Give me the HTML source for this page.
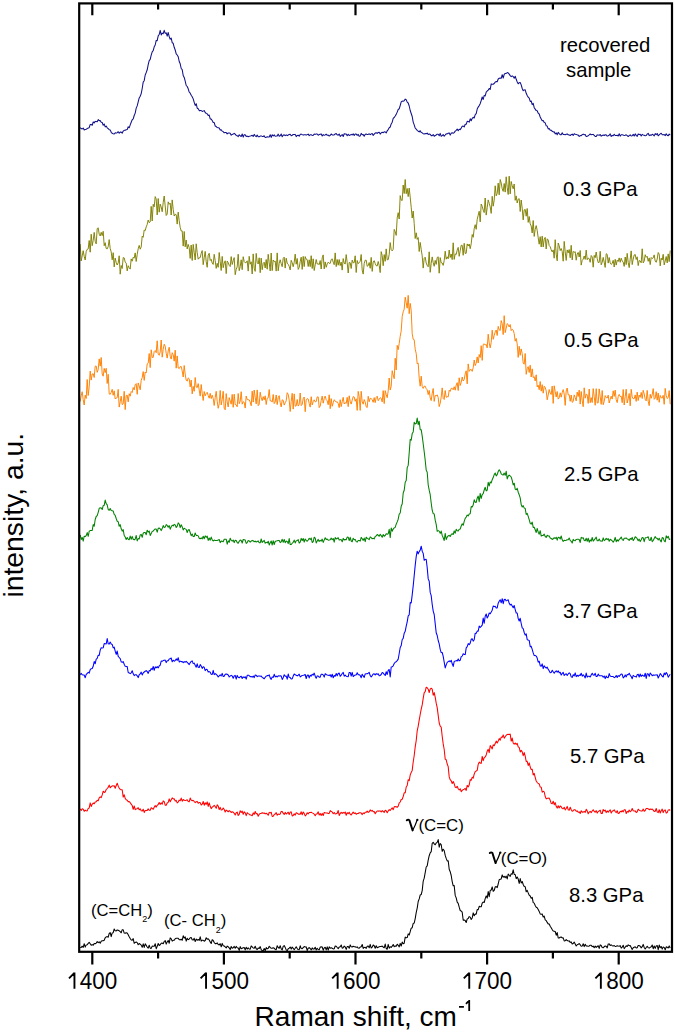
<!DOCTYPE html>
<html><head><meta charset="utf-8">
<style>
html,body{margin:0;padding:0;background:#fff;}
body{width:675px;height:1033px;overflow:hidden;}
svg{display:block;}
text{font-family:"Liberation Sans",sans-serif;fill:#000;}
.sp path{fill:none;stroke-width:1.05;stroke-linejoin:round;}
.lab{font-size:20.3px;}
.tk{font-size:24.6px;text-anchor:middle;}
.an{font-size:16.6px;}
.nu{font-family:"Liberation Serif",serif;font-size:25px;}
</style></head>
<body>
<svg width="675" height="1033" viewBox="0 0 675 1033">
<defs><g id="nu" fill="none" stroke="#000" stroke-linecap="round">
<path d="M0.3 1.5 Q1.7 0.2 2.9 1.5 L6.1 11.6" stroke-width="1.95"/>
<path d="M6.1 11.7 C7.8 8.4 9.6 4.6 10.6 1.3" stroke-width="1.25"/>
<circle cx="10.85" cy="1.15" r="1.15" fill="#000" stroke="none"/>
</g></defs>
<rect x="0" y="0" width="675" height="1033" fill="#fff"/>
<g class="sp">
<path d="M80.2 127.6L81.2 128.6L82.2 129.0L83.2 128.0L84.2 129.9L85.2 129.6L86.2 129.3L87.2 128.6L88.2 128.0L89.2 127.7L90.2 124.5L91.2 124.4L92.2 125.3L93.2 122.0L94.2 122.9L95.2 121.4L96.2 121.6L97.2 121.8L98.2 119.6L99.2 120.6L100.2 120.6L101.2 122.2L102.2 122.5L103.2 125.2L104.2 124.0L105.2 126.9L106.2 126.1L107.2 127.8L108.2 128.7L109.2 129.7L110.2 129.9L111.2 132.3L112.2 133.3L113.2 133.7L114.2 134.0L115.2 132.8L116.2 133.1L117.2 132.7L118.2 131.7L119.2 133.2L120.2 132.1L121.2 132.1L122.2 133.2L123.2 131.1L124.2 130.3L125.2 130.3L126.2 129.8L127.2 129.6L128.2 126.8L129.2 127.8L130.2 124.9L131.2 122.2L132.2 119.8L133.2 118.8L134.2 115.5L135.2 113.1L136.2 108.1L137.2 105.9L138.2 101.9L139.2 97.9L140.2 96.2L141.2 93.6L142.2 88.5L143.2 82.1L144.2 80.7L145.2 75.0L146.2 72.6L147.2 69.8L148.2 64.7L149.2 60.6L150.2 59.4L151.2 55.2L152.2 51.8L153.2 50.7L154.2 46.8L155.2 45.0L156.2 40.4L157.2 40.7L158.2 35.9L159.2 34.5L160.2 30.4L161.2 34.9L162.2 33.1L163.2 33.7L164.2 30.3L165.2 33.3L166.2 32.9L167.2 36.1L168.2 32.5L169.2 36.6L170.2 39.2L171.2 38.1L172.2 42.7L173.2 43.3L174.2 47.3L175.2 50.0L176.2 53.9L177.2 55.0L178.2 56.7L179.2 61.5L180.2 63.8L181.2 68.5L182.2 69.6L183.2 75.5L184.2 77.4L185.2 81.2L186.2 85.5L187.2 86.5L188.2 88.8L189.2 92.0L190.2 93.2L191.2 95.2L192.2 96.7L193.2 98.9L194.2 102.3L195.2 105.4L196.2 103.7L197.2 108.2L198.2 108.8L199.2 110.6L200.2 110.6L201.2 110.5L202.2 111.5L203.2 111.1L204.2 110.6L205.2 112.5L206.2 113.4L207.2 113.7L208.2 115.4L209.2 115.1L210.2 118.9L211.2 119.1L212.2 120.5L213.2 122.5L214.2 122.6L215.2 126.0L216.2 126.5L217.2 127.6L218.2 127.8L219.2 128.1L220.2 130.1L221.2 129.8L222.2 131.1L223.2 131.6L224.2 132.8L225.2 132.5L226.2 132.6L227.2 133.9L228.2 133.0L229.2 133.0L230.2 133.3L231.2 135.2L232.2 134.4L233.2 134.1L234.2 133.3L235.2 134.2L236.2 135.4L237.2 135.7L238.2 136.6L239.2 134.8L240.2 135.8L241.2 136.5L242.2 134.0L243.2 137.1L244.2 134.7L245.2 134.7L246.2 136.4L247.2 136.1L248.2 136.7L249.2 136.3L250.2 136.1L251.2 135.8L252.2 135.3L253.2 136.4L254.2 134.4L255.2 135.8L256.2 136.6L257.2 135.1L258.2 136.7L259.2 136.8L260.2 136.1L261.2 135.9L262.2 136.4L263.2 136.5L264.2 135.8L265.2 137.5L266.2 137.2L267.2 136.8L268.2 137.0L269.2 137.0L270.2 134.8L271.2 137.4L272.2 134.7L273.2 136.0L274.2 134.9L275.2 136.2L276.2 136.1L277.2 135.9L278.2 134.1L279.2 136.3L280.2 135.8L281.2 134.0L282.2 136.7L283.2 135.3L284.2 134.8L285.2 135.7L286.2 134.9L287.2 135.6L288.2 135.0L289.2 134.5L290.2 134.3L291.2 135.8L292.2 135.2L293.2 134.5L294.2 134.6L295.2 134.4L296.2 136.6L297.2 135.4L298.2 135.2L299.2 136.2L300.2 134.5L301.2 134.1L302.2 134.6L303.2 135.1L304.2 134.8L305.2 134.7L306.2 135.1L307.2 134.6L308.2 134.1L309.2 135.6L310.2 134.8L311.2 134.8L312.2 135.4L313.2 135.3L314.2 134.1L315.2 134.4L316.2 133.9L317.2 134.0L318.2 135.2L319.2 134.6L320.2 134.2L321.2 133.9L322.2 136.0L323.2 134.6L324.2 135.2L325.2 134.9L326.2 134.2L327.2 135.3L328.2 135.1L329.2 136.0L330.2 135.4L331.2 134.0L332.2 134.9L333.2 134.9L334.2 134.9L335.2 134.0L336.2 133.6L337.2 134.8L338.2 135.2L339.2 134.0L340.2 136.4L341.2 135.5L342.2 134.5L343.2 136.5L344.2 133.7L345.2 134.1L346.2 134.0L347.2 135.8L348.2 134.3L349.2 135.5L350.2 135.1L351.2 134.4L352.2 135.0L353.2 133.9L354.2 135.5L355.2 134.0L356.2 134.1L357.2 135.3L358.2 134.4L359.2 136.3L360.2 135.9L361.2 133.4L362.2 134.8L363.2 134.6L364.2 136.2L365.2 134.2L366.2 134.1L367.2 134.4L368.2 134.4L369.2 133.8L370.2 134.6L371.2 133.9L372.2 133.6L373.2 135.4L374.2 134.2L375.2 133.1L376.2 132.7L377.2 133.4L378.2 132.5L379.2 132.3L380.2 134.1L381.2 132.9L382.2 132.3L383.2 132.7L384.2 131.8L385.2 131.9L386.2 132.9L387.2 130.8L388.2 129.6L389.2 127.7L390.2 127.0L391.2 123.9L392.2 122.2L393.2 118.4L394.2 117.5L395.2 116.0L396.2 114.4L397.2 112.1L398.2 109.5L399.2 108.8L400.2 105.5L401.2 101.9L402.2 101.1L403.2 101.2L404.2 100.8L405.2 99.1L406.2 99.7L407.2 102.1L408.2 103.0L409.2 106.0L410.2 110.5L411.2 113.5L412.2 116.5L413.2 122.1L414.2 124.9L415.2 128.0L416.2 129.2L417.2 130.3L418.2 131.2L419.2 131.9L420.2 130.7L421.2 132.6L422.2 132.8L423.2 133.7L424.2 133.9L425.2 133.6L426.2 133.7L427.2 133.1L428.2 134.5L429.2 134.1L430.2 134.3L431.2 135.6L432.2 135.6L433.2 134.6L434.2 136.3L435.2 135.5L436.2 135.0L437.2 134.2L438.2 134.2L439.2 135.7L440.2 133.4L441.2 136.3L442.2 135.5L443.2 134.6L444.2 136.2L445.2 135.0L446.2 133.7L447.2 133.9L448.2 133.3L449.2 132.9L450.2 135.1L451.2 133.3L452.2 132.8L453.2 133.2L454.2 132.6L455.2 131.1L456.2 130.3L457.2 129.1L458.2 130.8L459.2 129.2L460.2 129.6L461.2 128.1L462.2 126.2L463.2 126.0L464.2 127.0L465.2 124.2L466.2 124.3L467.2 121.3L468.2 121.4L469.2 122.1L470.2 118.8L471.2 120.7L472.2 118.4L473.2 117.3L474.2 118.0L475.2 114.6L476.2 113.6L477.2 109.1L478.2 107.1L479.2 105.6L480.2 103.7L481.2 100.5L482.2 97.0L483.2 99.5L484.2 95.4L485.2 95.9L486.2 92.1L487.2 91.0L488.2 90.1L489.2 88.5L490.2 89.4L491.2 83.9L492.2 84.2L493.2 84.2L494.2 83.5L495.2 82.1L496.2 81.5L497.2 81.7L498.2 79.0L499.2 78.3L500.2 78.1L501.2 78.3L502.2 74.7L503.2 78.0L504.2 74.4L505.2 73.4L506.2 73.5L507.2 72.5L508.2 72.9L509.2 74.1L510.2 75.6L511.2 76.6L512.2 75.8L513.2 76.6L514.2 78.3L515.2 76.2L516.2 79.3L517.2 81.9L518.2 83.8L519.2 82.7L520.2 82.5L521.2 84.9L522.2 88.5L523.2 90.7L524.2 89.9L525.2 89.8L526.2 93.3L527.2 95.5L528.2 97.2L529.2 98.2L530.2 101.4L531.2 101.0L532.2 104.6L533.2 103.3L534.2 107.7L535.2 109.1L536.2 110.6L537.2 110.8L538.2 113.2L539.2 114.0L540.2 117.0L541.2 118.9L542.2 120.8L543.2 120.6L544.2 122.5L545.2 122.8L546.2 125.8L547.2 126.1L548.2 128.9L549.2 128.5L550.2 130.2L551.2 130.2L552.2 131.3L553.2 131.9L554.2 131.7L555.2 133.9L556.2 132.9L557.2 134.8L558.2 132.4L559.2 133.6L560.2 134.7L561.2 134.8L562.2 132.7L563.2 134.5L564.2 134.5L565.2 134.7L566.2 134.2L567.2 133.9L568.2 134.8L569.2 135.1L570.2 135.5L571.2 134.7L572.2 134.1L573.2 135.4L574.2 133.7L575.2 134.3L576.2 134.4L577.2 134.9L578.2 135.1L579.2 136.5L580.2 135.5L581.2 135.7L582.2 134.7L583.2 134.1L584.2 134.7L585.2 134.6L586.2 136.5L587.2 136.2L588.2 135.7L589.2 134.9L590.2 134.0L591.2 134.7L592.2 134.5L593.2 134.4L594.2 135.4L595.2 136.4L596.2 136.5L597.2 134.9L598.2 135.1L599.2 135.3L600.2 134.5L601.2 136.1L602.2 135.5L603.2 135.1L604.2 135.5L605.2 134.7L606.2 134.9L607.2 136.1L608.2 135.8L609.2 135.2L610.2 133.9L611.2 136.5L612.2 135.4L613.2 135.8L614.2 134.3L615.2 135.5L616.2 135.6L617.2 135.3L618.2 136.0L619.2 133.7L620.2 136.1L621.2 134.8L622.2 134.7L623.2 135.1L624.2 135.4L625.2 135.3L626.2 134.8L627.2 135.6L628.2 136.5L629.2 135.6L630.2 134.8L631.2 136.0L632.2 135.8L633.2 134.4L634.2 136.0L635.2 133.9L636.2 135.4L637.2 136.4L638.2 134.0L639.2 134.6L640.2 134.3L641.2 136.0L642.2 134.4L643.2 134.9L644.2 135.2L645.2 135.7L646.2 135.5L647.2 134.1L648.2 133.3L649.2 135.6L650.2 134.9L651.2 135.3L652.2 134.3L653.2 134.8L654.2 135.9L655.2 133.6L656.2 134.6L657.2 133.5L658.2 135.8L659.2 134.8L660.2 133.9L661.2 133.3L662.2 134.7L663.2 134.7L664.2 134.5L665.2 135.7L666.2 133.8L667.2 135.2L668.2 135.8L669.2 134.1L670.2 135.2" stroke="#10108a"/>
<path d="M80.2 244.1L81.2 260.9L82.2 255.9L83.2 250.7L84.2 256.4L85.2 260.0L86.2 251.5L87.2 249.4L88.2 248.9L89.2 240.5L90.2 252.2L91.2 234.2L92.2 245.7L93.2 240.4L94.2 232.4L95.2 241.3L96.2 243.9L97.2 228.6L98.2 227.8L99.2 234.2L100.2 236.0L101.2 232.3L102.2 235.6L103.2 231.3L104.2 245.7L105.2 242.7L106.2 248.5L107.2 248.9L108.2 246.6L109.2 239.6L110.2 248.6L111.2 251.9L112.2 259.8L113.2 252.7L114.2 266.9L115.2 258.1L116.2 262.4L117.2 265.0L118.2 262.8L119.2 255.8L120.2 274.2L121.2 265.5L122.2 268.5L123.2 257.6L124.2 257.9L125.2 262.1L126.2 263.1L127.2 270.9L128.2 265.7L129.2 267.7L130.2 269.1L131.2 258.9L132.2 261.2L133.2 257.3L134.2 258.1L135.2 252.9L136.2 261.5L137.2 254.5L138.2 248.8L139.2 245.4L140.2 249.2L141.2 247.0L142.2 236.1L143.2 237.3L144.2 230.0L145.2 230.7L146.2 226.9L147.2 224.5L148.2 220.0L149.2 222.7L150.2 221.9L151.2 206.4L152.2 221.0L153.2 204.3L154.2 206.8L155.2 196.6L156.2 199.0L157.2 214.9L158.2 198.5L159.2 212.2L160.2 204.1L161.2 207.0L162.2 211.8L163.2 202.6L164.2 196.0L165.2 205.9L166.2 215.5L167.2 214.1L168.2 201.8L169.2 204.3L170.2 203.1L171.2 215.0L172.2 199.9L173.2 209.3L174.2 216.0L175.2 214.3L176.2 214.7L177.2 224.1L178.2 212.1L179.2 220.7L180.2 227.4L181.2 231.0L182.2 230.9L183.2 246.1L184.2 231.5L185.2 246.8L186.2 240.0L187.2 248.9L188.2 244.4L189.2 247.7L190.2 258.4L191.2 245.0L192.2 260.5L193.2 244.4L194.2 252.4L195.2 260.0L196.2 243.8L197.2 252.5L198.2 259.2L199.2 257.8L200.2 257.6L201.2 253.4L202.2 250.6L203.2 264.7L204.2 257.7L205.2 251.4L206.2 261.5L207.2 267.3L208.2 255.2L209.2 253.3L210.2 260.5L211.2 259.3L212.2 263.0L213.2 264.4L214.2 254.3L215.2 260.6L216.2 268.4L217.2 263.3L218.2 267.3L219.2 252.5L220.2 261.9L221.2 270.5L222.2 256.4L223.2 267.7L224.2 263.0L225.2 260.8L226.2 273.6L227.2 261.1L228.2 262.5L229.2 265.4L230.2 266.6L231.2 256.6L232.2 264.5L233.2 260.7L234.2 257.6L235.2 274.7L236.2 269.3L237.2 266.9L238.2 254.2L239.2 270.7L240.2 266.7L241.2 259.8L242.2 269.7L243.2 256.7L244.2 261.6L245.2 262.7L246.2 262.6L247.2 260.8L248.2 271.1L249.2 256.3L250.2 264.2L251.2 261.8L252.2 274.0L253.2 253.9L254.2 268.2L255.2 271.4L256.2 253.4L257.2 262.4L258.2 264.0L259.2 257.8L260.2 272.7L261.2 258.1L262.2 269.7L263.2 263.4L264.2 262.2L265.2 268.0L266.2 259.5L267.2 269.2L268.2 254.3L269.2 262.8L270.2 270.9L271.2 253.0L272.2 270.6L273.2 260.0L274.2 261.5L275.2 261.1L276.2 271.1L277.2 252.9L278.2 270.8L279.2 263.4L280.2 259.8L281.2 263.7L282.2 266.7L283.2 258.4L284.2 257.1L285.2 268.1L286.2 258.2L287.2 263.1L288.2 264.3L289.2 266.4L290.2 270.0L291.2 260.3L292.2 262.7L293.2 266.7L294.2 262.4L295.2 254.1L296.2 264.2L297.2 258.5L298.2 269.4L299.2 267.5L300.2 261.6L301.2 257.2L302.2 269.4L303.2 256.4L304.2 266.6L305.2 256.6L306.2 259.2L307.2 259.6L308.2 266.5L309.2 259.8L310.2 266.7L311.2 255.7L312.2 268.5L313.2 258.8L314.2 270.5L315.2 264.9L316.2 259.5L317.2 264.0L318.2 263.9L319.2 264.7L320.2 260.6L321.2 269.0L322.2 257.9L323.2 254.9L324.2 268.9L325.2 261.9L326.2 267.3L327.2 263.9L328.2 262.2L329.2 263.3L330.2 263.4L331.2 259.6L332.2 258.8L333.2 262.1L334.2 264.7L335.2 252.9L336.2 266.6L337.2 259.5L338.2 265.2L339.2 259.5L340.2 265.6L341.2 262.1L342.2 270.1L343.2 258.6L344.2 263.0L345.2 264.1L346.2 254.6L347.2 262.7L348.2 273.0L349.2 262.5L350.2 262.7L351.2 268.5L352.2 260.1L353.2 262.8L354.2 262.7L355.2 255.8L356.2 272.5L357.2 260.5L358.2 263.7L359.2 262.4L360.2 261.5L361.2 254.5L362.2 270.1L363.2 274.1L364.2 263.4L365.2 260.2L366.2 260.2L367.2 266.3L368.2 265.7L369.2 262.5L370.2 268.3L371.2 257.4L372.2 271.4L373.2 262.0L374.2 260.7L375.2 263.5L376.2 265.7L377.2 266.0L378.2 261.5L379.2 265.3L380.2 272.6L381.2 251.7L382.2 255.6L383.2 265.7L384.2 254.6L385.2 261.3L386.2 248.9L387.2 259.8L388.2 259.7L389.2 254.4L390.2 242.6L391.2 249.7L392.2 250.9L393.2 249.2L394.2 229.4L395.2 231.5L396.2 235.4L397.2 217.9L398.2 212.7L399.2 219.0L400.2 195.6L401.2 200.1L402.2 200.5L403.2 185.0L404.2 193.5L405.2 179.5L406.2 193.7L407.2 188.5L408.2 196.6L409.2 188.1L410.2 197.1L411.2 207.2L412.2 218.0L413.2 211.0L414.2 223.5L415.2 238.5L416.2 232.8L417.2 239.4L418.2 237.6L419.2 251.5L420.2 242.4L421.2 249.3L422.2 255.9L423.2 268.1L424.2 258.2L425.2 257.2L426.2 263.0L427.2 265.4L428.2 266.8L429.2 251.8L430.2 272.3L431.2 263.4L432.2 256.9L433.2 262.6L434.2 266.3L435.2 260.4L436.2 264.4L437.2 257.5L438.2 256.8L439.2 273.2L440.2 257.6L441.2 262.7L442.2 263.0L443.2 265.4L444.2 260.6L445.2 251.2L446.2 259.2L447.2 256.8L448.2 258.8L449.2 250.0L450.2 257.5L451.2 254.0L452.2 259.6L453.2 242.8L454.2 259.4L455.2 253.9L456.2 254.5L457.2 250.1L458.2 247.4L459.2 256.3L460.2 250.8L461.2 245.3L462.2 245.3L463.2 255.3L464.2 243.3L465.2 253.5L466.2 253.3L467.2 243.9L468.2 246.0L469.2 244.0L470.2 248.7L471.2 243.8L472.2 234.5L473.2 237.3L474.2 228.7L475.2 224.7L476.2 229.3L477.2 219.4L478.2 215.3L479.2 211.2L480.2 221.9L481.2 204.0L482.2 206.3L483.2 210.1L484.2 212.6L485.2 198.0L486.2 215.1L487.2 207.7L488.2 199.9L489.2 203.3L490.2 206.8L491.2 213.4L492.2 196.3L493.2 206.2L494.2 200.1L495.2 185.8L496.2 195.8L497.2 193.4L498.2 183.1L499.2 194.8L500.2 179.5L501.2 183.0L502.2 188.8L503.2 191.4L504.2 183.5L505.2 192.1L506.2 176.8L507.2 187.4L508.2 194.5L509.2 176.2L510.2 193.9L511.2 181.5L512.2 185.8L513.2 188.8L514.2 184.0L515.2 200.3L516.2 195.9L517.2 203.0L518.2 199.1L519.2 198.7L520.2 211.5L521.2 200.0L522.2 208.1L523.2 219.9L524.2 209.9L525.2 209.4L526.2 216.2L527.2 208.5L528.2 222.4L529.2 216.5L530.2 223.9L531.2 226.0L532.2 233.0L533.2 220.5L534.2 236.4L535.2 229.4L536.2 225.6L537.2 230.4L538.2 237.8L539.2 244.2L540.2 236.7L541.2 247.0L542.2 236.1L543.2 246.9L544.2 239.2L545.2 237.4L546.2 249.0L547.2 238.8L548.2 240.0L549.2 245.7L550.2 246.7L551.2 249.8L552.2 251.9L553.2 249.9L554.2 258.2L555.2 239.7L556.2 254.1L557.2 260.8L558.2 243.0L559.2 245.7L560.2 250.6L561.2 248.5L562.2 251.5L563.2 261.2L564.2 241.4L565.2 251.8L566.2 260.4L567.2 249.9L568.2 252.9L569.2 249.5L570.2 257.8L571.2 245.3L572.2 259.9L573.2 251.4L574.2 252.3L575.2 251.7L576.2 260.2L577.2 254.0L578.2 252.4L579.2 257.0L580.2 250.5L581.2 265.1L582.2 260.3L583.2 259.2L584.2 256.0L585.2 259.4L586.2 250.1L587.2 259.7L588.2 258.1L589.2 258.6L590.2 262.3L591.2 255.5L592.2 256.9L593.2 267.2L594.2 255.4L595.2 257.7L596.2 252.0L597.2 258.6L598.2 262.6L599.2 262.4L600.2 251.3L601.2 264.8L602.2 262.3L603.2 257.4L604.2 262.2L605.2 267.4L606.2 253.7L607.2 254.4L608.2 263.1L609.2 257.5L610.2 262.8L611.2 264.4L612.2 263.5L613.2 260.3L614.2 267.0L615.2 259.3L616.2 265.1L617.2 260.2L618.2 261.5L619.2 257.9L620.2 262.3L621.2 258.2L622.2 261.0L623.2 262.1L624.2 266.4L625.2 257.0L626.2 264.6L627.2 253.4L628.2 262.4L629.2 267.6L630.2 259.2L631.2 250.9L632.2 264.6L633.2 259.1L634.2 255.0L635.2 254.4L636.2 259.5L637.2 256.8L638.2 265.6L639.2 260.5L640.2 261.0L641.2 262.8L642.2 248.8L643.2 262.9L644.2 261.1L645.2 254.7L646.2 257.3L647.2 256.3L648.2 261.3L649.2 257.9L650.2 264.6L651.2 257.5L652.2 258.6L653.2 257.9L654.2 254.9L655.2 261.1L656.2 262.3L657.2 259.0L658.2 252.5L659.2 254.1L660.2 265.9L661.2 258.2L662.2 260.0L663.2 254.3L664.2 264.9L665.2 261.0L666.2 256.5L667.2 262.9L668.2 253.9L669.2 261.6L670.2 250.5" stroke="#808000" style="stroke-width:0.95"/>
<path d="M80.2 401.6L81.2 395.8L82.2 391.7L83.2 399.6L84.2 405.0L85.2 395.2L86.2 398.5L87.2 379.5L88.2 395.5L89.2 386.9L90.2 371.1L91.2 380.1L92.2 374.0L93.2 373.7L94.2 377.5L95.2 366.2L96.2 366.0L97.2 372.3L98.2 369.6L99.2 358.9L100.2 366.1L101.2 357.5L102.2 374.0L103.2 376.2L104.2 368.4L105.2 372.6L106.2 368.3L107.2 383.5L108.2 374.3L109.2 393.9L110.2 394.4L111.2 392.3L112.2 389.3L113.2 395.3L114.2 390.8L115.2 399.0L116.2 398.0L117.2 397.7L118.2 389.4L119.2 407.1L120.2 401.8L121.2 396.2L122.2 404.7L123.2 403.8L124.2 391.3L125.2 409.6L126.2 395.5L127.2 395.1L128.2 401.9L129.2 393.7L130.2 396.2L131.2 391.5L132.2 392.5L133.2 387.5L134.2 389.9L135.2 384.8L136.2 383.6L137.2 394.3L138.2 382.9L139.2 386.0L140.2 389.8L141.2 380.3L142.2 377.7L143.2 371.6L144.2 380.4L145.2 372.0L146.2 373.0L147.2 363.9L148.2 363.1L149.2 353.5L150.2 367.6L151.2 349.8L152.2 357.4L153.2 357.5L154.2 351.5L155.2 350.5L156.2 352.7L157.2 340.8L158.2 354.2L159.2 355.3L160.2 351.9L161.2 340.0L162.2 357.2L163.2 349.3L164.2 344.2L165.2 346.2L166.2 353.3L167.2 358.1L168.2 351.0L169.2 347.2L170.2 356.2L171.2 359.1L172.2 352.7L173.2 354.7L174.2 361.1L175.2 350.1L176.2 368.2L177.2 355.9L178.2 367.9L179.2 368.6L180.2 366.7L181.2 366.5L182.2 370.9L183.2 377.0L184.2 365.5L185.2 374.1L186.2 380.2L187.2 381.2L188.2 377.9L189.2 378.8L190.2 386.9L191.2 380.0L192.2 393.9L193.2 386.4L194.2 391.3L195.2 377.5L196.2 387.0L197.2 387.7L198.2 383.6L199.2 390.0L200.2 396.1L201.2 384.5L202.2 393.2L203.2 400.5L204.2 391.5L205.2 395.8L206.2 393.6L207.2 392.3L208.2 395.5L209.2 398.2L210.2 393.3L211.2 398.6L212.2 395.2L213.2 398.4L214.2 405.5L215.2 397.7L216.2 391.3L217.2 401.2L218.2 408.3L219.2 403.8L220.2 390.5L221.2 404.9L222.2 399.5L223.2 391.3L224.2 408.2L225.2 409.8L226.2 393.6L227.2 402.0L228.2 407.0L229.2 397.6L230.2 400.9L231.2 404.2L232.2 394.4L233.2 407.3L234.2 394.2L235.2 404.6L236.2 404.8L237.2 406.8L238.2 393.5L239.2 403.7L240.2 401.3L241.2 391.7L242.2 404.2L243.2 401.7L244.2 402.3L245.2 408.1L246.2 396.0L247.2 399.5L248.2 399.7L249.2 399.9L250.2 402.0L251.2 405.8L252.2 391.1L253.2 402.1L254.2 390.0L255.2 397.2L256.2 403.9L257.2 389.9L258.2 405.7L259.2 404.4L260.2 392.2L261.2 397.8L262.2 400.7L263.2 396.6L264.2 399.9L265.2 395.8L266.2 404.5L267.2 398.3L268.2 397.9L269.2 389.5L270.2 400.8L271.2 400.7L272.2 402.1L273.2 394.5L274.2 403.6L275.2 402.0L276.2 395.0L277.2 404.6L278.2 397.6L279.2 395.7L280.2 402.9L281.2 406.9L282.2 399.8L283.2 400.3L284.2 405.1L285.2 402.8L286.2 400.8L287.2 392.7L288.2 394.3L289.2 400.1L290.2 411.5L291.2 401.3L292.2 393.3L293.2 409.1L294.2 393.9L295.2 406.2L296.2 405.9L297.2 399.5L298.2 406.1L299.2 404.4L300.2 393.0L301.2 405.6L302.2 404.5L303.2 398.7L304.2 397.0L305.2 411.7L306.2 399.8L307.2 398.6L308.2 399.0L309.2 403.5L310.2 407.1L311.2 396.7L312.2 404.9L313.2 401.7L314.2 399.8L315.2 401.9L316.2 401.6L317.2 396.9L318.2 396.9L319.2 407.6L320.2 406.1L321.2 400.5L322.2 396.1L323.2 403.2L324.2 398.7L325.2 396.1L326.2 399.7L327.2 400.8L328.2 404.8L329.2 394.8L330.2 408.7L331.2 398.6L332.2 406.3L333.2 402.8L334.2 399.7L335.2 401.1L336.2 402.1L337.2 401.7L338.2 403.5L339.2 407.6L340.2 399.7L341.2 406.6L342.2 401.7L343.2 397.3L344.2 404.0L345.2 402.7L346.2 403.4L347.2 397.3L348.2 406.6L349.2 395.8L350.2 401.4L351.2 404.1L352.2 400.1L353.2 396.6L354.2 397.0L355.2 401.3L356.2 398.8L357.2 410.4L358.2 391.4L359.2 396.7L360.2 410.4L361.2 391.3L362.2 401.8L363.2 404.2L364.2 399.6L365.2 402.0L366.2 406.8L367.2 407.6L368.2 396.3L369.2 401.7L370.2 398.3L371.2 398.7L372.2 399.6L373.2 402.3L374.2 397.6L375.2 402.6L376.2 397.4L377.2 396.2L378.2 400.7L379.2 399.2L380.2 397.7L381.2 398.3L382.2 401.9L383.2 390.6L384.2 403.6L385.2 390.6L386.2 394.6L387.2 397.7L388.2 390.9L389.2 378.0L390.2 390.0L391.2 386.5L392.2 370.7L393.2 375.0L394.2 378.7L395.2 358.2L396.2 370.0L397.2 345.4L398.2 349.7L399.2 343.5L400.2 336.4L401.2 330.9L402.2 316.6L403.2 311.8L404.2 309.2L405.2 297.2L406.2 302.7L407.2 308.2L408.2 295.4L409.2 313.7L410.2 303.4L411.2 310.3L412.2 333.6L413.2 339.3L414.2 339.7L415.2 349.2L416.2 353.4L417.2 363.8L418.2 363.1L419.2 378.1L420.2 386.2L421.2 376.2L422.2 386.4L423.2 388.4L424.2 386.2L425.2 386.2L426.2 388.6L427.2 389.8L428.2 394.6L429.2 390.4L430.2 397.8L431.2 400.6L432.2 393.5L433.2 388.5L434.2 401.4L435.2 395.5L436.2 395.9L437.2 394.8L438.2 397.5L439.2 406.6L440.2 403.3L441.2 397.1L442.2 387.9L443.2 398.4L444.2 399.5L445.2 390.5L446.2 397.3L447.2 396.7L448.2 396.9L449.2 390.2L450.2 391.4L451.2 388.3L452.2 388.3L453.2 389.8L454.2 386.7L455.2 390.2L456.2 385.0L457.2 382.6L458.2 390.5L459.2 377.8L460.2 385.5L461.2 382.4L462.2 377.0L463.2 381.0L464.2 379.5L465.2 373.9L466.2 370.8L467.2 383.8L468.2 363.9L469.2 371.4L470.2 369.7L471.2 369.4L472.2 371.4L473.2 367.7L474.2 360.0L475.2 365.6L476.2 363.2L477.2 356.9L478.2 363.0L479.2 354.5L480.2 357.6L481.2 345.7L482.2 360.4L483.2 344.5L484.2 343.8L485.2 345.1L486.2 344.3L487.2 347.9L488.2 334.2L489.2 343.0L490.2 347.9L491.2 342.4L492.2 330.2L493.2 339.3L494.2 335.5L495.2 331.9L496.2 330.0L497.2 335.5L498.2 326.4L499.2 329.8L500.2 330.5L501.2 320.6L502.2 323.8L503.2 334.6L504.2 315.7L505.2 332.6L506.2 328.3L507.2 323.6L508.2 324.5L509.2 327.0L510.2 324.5L511.2 330.6L512.2 329.2L513.2 330.1L514.2 333.6L515.2 341.2L516.2 338.4L517.2 343.8L518.2 357.4L519.2 346.3L520.2 355.3L521.2 348.9L522.2 353.5L523.2 363.1L524.2 364.2L525.2 353.5L526.2 374.3L527.2 368.6L528.2 366.6L529.2 372.5L530.2 365.2L531.2 377.0L532.2 368.8L533.2 377.6L534.2 376.7L535.2 381.0L536.2 374.8L537.2 386.9L538.2 385.2L539.2 389.7L540.2 381.5L541.2 391.2L542.2 384.7L543.2 393.2L544.2 386.2L545.2 387.4L546.2 390.9L547.2 399.8L548.2 395.0L549.2 389.5L550.2 393.1L551.2 394.5L552.2 386.1L553.2 403.4L554.2 385.8L555.2 391.5L556.2 397.0L557.2 391.5L558.2 399.1L559.2 397.8L560.2 392.8L561.2 397.2L562.2 392.7L563.2 389.6L564.2 394.0L565.2 405.4L566.2 391.0L567.2 388.0L568.2 395.0L569.2 394.7L570.2 401.3L571.2 395.0L572.2 402.4L573.2 401.5L574.2 394.9L575.2 397.5L576.2 400.9L577.2 392.1L578.2 396.5L579.2 390.1L580.2 404.1L581.2 391.5L582.2 400.3L583.2 406.7L584.2 387.8L585.2 398.2L586.2 394.1L587.2 394.8L588.2 403.4L589.2 389.0L590.2 402.7L591.2 397.6L592.2 402.5L593.2 388.6L594.2 396.5L595.2 405.3L596.2 388.7L597.2 403.0L598.2 402.8L599.2 388.9L600.2 396.8L601.2 404.4L602.2 390.5L603.2 404.7L604.2 401.5L605.2 395.6L606.2 397.6L607.2 398.0L608.2 395.1L609.2 403.0L610.2 399.3L611.2 396.2L612.2 399.1L613.2 390.8L614.2 396.4L615.2 390.1L616.2 399.7L617.2 402.6L618.2 396.6L619.2 394.4L620.2 396.6L621.2 396.2L622.2 402.7L623.2 389.5L624.2 405.0L625.2 396.7L626.2 389.2L627.2 403.0L628.2 398.8L629.2 393.5L630.2 405.8L631.2 389.3L632.2 396.9L633.2 398.7L634.2 398.7L635.2 394.9L636.2 401.4L637.2 392.1L638.2 400.5L639.2 395.1L640.2 397.3L641.2 392.4L642.2 398.5L643.2 390.3L644.2 393.8L645.2 399.3L646.2 400.9L647.2 390.4L648.2 401.2L649.2 405.7L650.2 394.3L651.2 398.3L652.2 394.8L653.2 388.6L654.2 399.3L655.2 398.1L656.2 391.7L657.2 400.2L658.2 393.1L659.2 402.3L660.2 395.4L661.2 397.7L662.2 398.1L663.2 395.3L664.2 404.3L665.2 388.4L666.2 395.7L667.2 398.5L668.2 397.6L669.2 390.6L670.2 404.2" stroke="#ff8000" style="stroke-width:0.95"/>
<path d="M80.2 534.9L81.2 539.4L82.2 537.4L83.2 541.1L84.2 536.2L85.2 536.5L86.2 535.6L87.2 532.6L88.2 536.3L89.2 531.3L90.2 530.6L91.2 530.4L92.2 530.4L93.2 524.6L94.2 526.2L95.2 519.5L96.2 516.5L97.2 515.6L98.2 512.3L99.2 508.4L100.2 507.8L101.2 507.9L102.2 509.5L103.2 505.7L104.2 505.3L105.2 500.1L106.2 503.7L107.2 504.9L108.2 509.5L109.2 510.3L110.2 508.5L111.2 510.5L112.2 510.8L113.2 511.1L114.2 514.3L115.2 515.3L116.2 518.5L117.2 521.3L118.2 521.7L119.2 526.3L120.2 524.6L121.2 528.8L122.2 531.1L123.2 529.6L124.2 535.5L125.2 537.0L126.2 539.5L127.2 537.5L128.2 539.2L129.2 539.7L130.2 536.1L131.2 539.3L132.2 536.4L133.2 539.2L134.2 539.9L135.2 539.1L136.2 535.5L137.2 540.9L138.2 538.6L139.2 538.9L140.2 535.0L141.2 534.4L142.2 537.3L143.2 533.2L144.2 532.5L145.2 532.5L146.2 534.7L147.2 530.2L148.2 532.1L149.2 531.0L150.2 535.4L151.2 533.6L152.2 531.4L153.2 531.1L154.2 529.8L155.2 529.0L156.2 529.1L157.2 532.2L158.2 528.3L159.2 528.0L160.2 528.8L161.2 530.6L162.2 528.6L163.2 525.6L164.2 527.4L165.2 527.1L166.2 524.6L167.2 525.4L168.2 527.2L169.2 525.6L170.2 529.2L171.2 526.7L172.2 525.2L173.2 525.9L174.2 524.4L175.2 524.9L176.2 527.5L177.2 526.1L178.2 522.9L179.2 524.0L180.2 527.6L181.2 524.8L182.2 526.8L183.2 529.9L184.2 528.3L185.2 528.9L186.2 529.4L187.2 532.5L188.2 530.0L189.2 529.6L190.2 532.5L191.2 535.7L192.2 534.0L193.2 536.6L194.2 536.5L195.2 533.0L196.2 535.4L197.2 535.4L198.2 535.9L199.2 538.2L200.2 538.8L201.2 537.9L202.2 538.9L203.2 536.2L204.2 538.7L205.2 535.9L206.2 537.3L207.2 536.1L208.2 540.4L209.2 538.0L210.2 540.2L211.2 537.1L212.2 539.8L213.2 541.0L214.2 540.1L215.2 540.4L216.2 540.5L217.2 540.4L218.2 540.1L219.2 539.5L220.2 542.6L221.2 541.1L222.2 541.3L223.2 541.8L224.2 539.3L225.2 539.2L226.2 539.2L227.2 544.2L228.2 540.8L229.2 542.3L230.2 538.2L231.2 540.4L232.2 541.1L233.2 540.0L234.2 542.6L235.2 540.2L236.2 540.6L237.2 542.5L238.2 543.3L239.2 541.3L240.2 540.1L241.2 540.5L242.2 543.0L243.2 539.5L244.2 539.8L245.2 540.1L246.2 543.4L247.2 542.6L248.2 540.6L249.2 540.9L250.2 542.1L251.2 541.2L252.2 540.4L253.2 540.7L254.2 541.8L255.2 541.1L256.2 542.0L257.2 541.5L258.2 540.9L259.2 542.8L260.2 542.8L261.2 539.0L262.2 542.5L263.2 541.3L264.2 540.4L265.2 543.2L266.2 542.4L267.2 542.9L268.2 541.2L269.2 544.9L270.2 542.8L271.2 541.0L272.2 545.0L273.2 540.7L274.2 544.5L275.2 541.5L276.2 541.0L277.2 540.8L278.2 540.4L279.2 540.5L280.2 542.6L281.2 541.8L282.2 539.3L283.2 542.3L284.2 539.5L285.2 542.7L286.2 541.1L287.2 541.4L288.2 543.6L289.2 538.6L290.2 544.6L291.2 544.5L292.2 543.2L293.2 542.3L294.2 540.1L295.2 542.9L296.2 540.8L297.2 540.6L298.2 539.6L299.2 543.1L300.2 542.2L301.2 538.4L302.2 540.5L303.2 538.5L304.2 542.0L305.2 539.0L306.2 540.3L307.2 541.3L308.2 540.0L309.2 538.3L310.2 539.5L311.2 538.0L312.2 542.5L313.2 541.6L314.2 537.2L315.2 538.1L316.2 543.0L317.2 541.0L318.2 539.4L319.2 541.4L320.2 540.4L321.2 541.1L322.2 539.1L323.2 542.4L324.2 540.1L325.2 537.7L326.2 539.5L327.2 539.0L328.2 540.2L329.2 540.0L330.2 539.7L331.2 538.1L332.2 539.8L333.2 538.5L334.2 542.1L335.2 537.5L336.2 538.9L337.2 538.5L338.2 537.7L339.2 540.0L340.2 539.8L341.2 539.6L342.2 541.8L343.2 538.4L344.2 540.0L345.2 539.4L346.2 539.7L347.2 537.1L348.2 537.2L349.2 540.6L350.2 537.3L351.2 541.0L352.2 541.7L353.2 538.2L354.2 539.7L355.2 539.4L356.2 541.6L357.2 542.1L358.2 540.4L359.2 540.5L360.2 541.1L361.2 537.4L362.2 538.8L363.2 540.4L364.2 538.1L365.2 541.6L366.2 537.2L367.2 538.4L368.2 538.8L369.2 539.6L370.2 536.9L371.2 537.7L372.2 538.8L373.2 538.3L374.2 538.9L375.2 536.5L376.2 535.9L377.2 534.5L378.2 535.2L379.2 536.3L380.2 534.3L381.2 535.6L382.2 537.2L383.2 534.5L384.2 536.3L385.2 535.5L386.2 533.7L387.2 534.2L388.2 533.8L389.2 529.3L390.2 537.6L391.2 528.0L392.2 531.2L393.2 529.1L394.2 527.9L395.2 527.4L396.2 524.2L397.2 521.9L398.2 519.2L399.2 514.2L400.2 513.0L401.2 506.3L402.2 504.0L403.2 493.0L404.2 490.2L405.2 482.3L406.2 480.6L407.2 467.6L408.2 465.4L409.2 452.7L410.2 439.4L411.2 440.2L412.2 433.6L413.2 431.9L414.2 422.2L415.2 423.9L416.2 423.6L417.2 418.1L418.2 424.6L419.2 421.2L420.2 429.7L421.2 429.7L422.2 436.2L423.2 443.8L424.2 451.7L425.2 460.3L426.2 470.1L427.2 472.3L428.2 485.0L429.2 490.2L430.2 494.7L431.2 503.0L432.2 510.2L433.2 513.6L434.2 513.9L435.2 520.2L436.2 524.4L437.2 531.3L438.2 530.6L439.2 531.1L440.2 533.4L441.2 531.1L442.2 535.4L443.2 537.7L444.2 540.5L445.2 533.4L446.2 539.5L447.2 537.1L448.2 535.7L449.2 535.4L450.2 536.5L451.2 534.4L452.2 533.8L453.2 534.5L454.2 530.9L455.2 533.2L456.2 529.3L457.2 530.8L458.2 531.0L459.2 529.3L460.2 529.1L461.2 526.0L462.2 523.8L463.2 525.3L464.2 521.4L465.2 518.3L466.2 517.1L467.2 515.0L468.2 516.0L469.2 513.9L470.2 513.7L471.2 506.5L472.2 507.0L473.2 505.0L474.2 499.8L475.2 502.2L476.2 502.4L477.2 498.2L478.2 496.1L479.2 501.7L480.2 493.4L481.2 498.4L482.2 494.6L483.2 493.6L484.2 490.0L485.2 487.3L486.2 490.9L487.2 490.1L488.2 482.3L489.2 485.9L490.2 482.0L491.2 482.9L492.2 479.7L493.2 477.6L494.2 474.6L495.2 473.0L496.2 475.9L497.2 474.6L498.2 471.5L499.2 469.8L500.2 471.3L501.2 473.8L502.2 474.7L503.2 475.0L504.2 473.1L505.2 475.3L506.2 471.3L507.2 478.9L508.2 476.2L509.2 475.1L510.2 476.0L511.2 477.0L512.2 480.4L513.2 484.9L514.2 483.2L515.2 489.1L516.2 489.8L517.2 488.3L518.2 492.2L519.2 494.8L520.2 497.9L521.2 504.6L522.2 507.0L523.2 505.6L524.2 508.1L525.2 508.4L526.2 514.5L527.2 513.3L528.2 516.4L529.2 519.7L530.2 523.3L531.2 524.1L532.2 522.1L533.2 527.4L534.2 527.3L535.2 529.7L536.2 532.5L537.2 528.4L538.2 532.2L539.2 534.2L540.2 530.7L541.2 536.1L542.2 535.5L543.2 535.4L544.2 534.1L545.2 536.5L546.2 537.4L547.2 535.3L548.2 536.0L549.2 535.9L550.2 538.0L551.2 538.4L552.2 539.5L553.2 538.8L554.2 537.7L555.2 538.5L556.2 537.2L557.2 540.2L558.2 537.2L559.2 537.5L560.2 539.0L561.2 536.0L562.2 539.8L563.2 541.4L564.2 540.3L565.2 540.6L566.2 540.3L567.2 539.7L568.2 539.7L569.2 538.0L570.2 540.4L571.2 541.3L572.2 543.0L573.2 539.4L574.2 540.6L575.2 540.8L576.2 539.4L577.2 539.3L578.2 539.3L579.2 539.5L580.2 542.5L581.2 537.3L582.2 538.1L583.2 537.7L584.2 540.4L585.2 540.8L586.2 538.3L587.2 541.3L588.2 538.2L589.2 542.2L590.2 539.9L591.2 541.2L592.2 537.5L593.2 541.1L594.2 539.9L595.2 538.7L596.2 537.1L597.2 540.8L598.2 540.7L599.2 539.0L600.2 541.0L601.2 541.1L602.2 541.3L603.2 537.9L604.2 540.6L605.2 539.8L606.2 538.4L607.2 539.7L608.2 538.6L609.2 541.2L610.2 539.2L611.2 540.0L612.2 540.8L613.2 542.3L614.2 540.5L615.2 537.4L616.2 541.7L617.2 539.7L618.2 541.1L619.2 539.5L620.2 538.7L621.2 537.0L622.2 539.5L623.2 540.5L624.2 538.3L625.2 538.2L626.2 538.0L627.2 538.9L628.2 539.3L629.2 540.4L630.2 538.5L631.2 539.4L632.2 537.4L633.2 540.6L634.2 539.0L635.2 536.8L636.2 537.5L637.2 538.7L638.2 540.8L639.2 539.1L640.2 541.6L641.2 539.7L642.2 537.6L643.2 537.8L644.2 541.7L645.2 537.8L646.2 537.7L647.2 537.5L648.2 536.8L649.2 540.2L650.2 540.4L651.2 537.2L652.2 541.7L653.2 540.5L654.2 538.4L655.2 536.6L656.2 538.2L657.2 538.2L658.2 540.0L659.2 538.2L660.2 540.4L661.2 541.9L662.2 537.6L663.2 537.9L664.2 540.9L665.2 541.8L666.2 535.8L667.2 537.9L668.2 536.2L669.2 539.4L670.2 539.0" stroke="#008000"/>
<path d="M80.2 674.6L81.2 673.4L82.2 674.7L83.2 674.9L84.2 675.1L85.2 677.7L86.2 674.3L87.2 673.5L88.2 672.2L89.2 673.1L90.2 669.6L91.2 668.7L92.2 668.5L93.2 666.3L94.2 661.5L95.2 663.7L96.2 659.2L97.2 658.3L98.2 655.2L99.2 655.4L100.2 650.1L101.2 647.8L102.2 647.9L103.2 647.8L104.2 643.6L105.2 643.8L106.2 644.0L107.2 638.5L108.2 643.8L109.2 644.1L110.2 642.1L111.2 644.0L112.2 644.4L113.2 647.9L114.2 647.1L115.2 651.2L116.2 654.4L117.2 651.0L118.2 656.4L119.2 657.5L120.2 658.6L121.2 661.8L122.2 662.4L123.2 661.6L124.2 664.3L125.2 666.3L126.2 666.4L127.2 666.6L128.2 672.5L129.2 672.9L130.2 673.7L131.2 672.8L132.2 670.7L133.2 673.8L134.2 675.6L135.2 674.7L136.2 674.7L137.2 675.8L138.2 677.6L139.2 674.8L140.2 673.9L141.2 672.1L142.2 674.9L143.2 672.9L144.2 672.0L145.2 671.3L146.2 670.6L147.2 671.5L148.2 673.4L149.2 670.6L150.2 670.9L151.2 668.5L152.2 669.6L153.2 666.5L154.2 670.3L155.2 666.8L156.2 667.8L157.2 666.6L158.2 667.9L159.2 665.9L160.2 665.2L161.2 661.1L162.2 661.2L163.2 660.6L164.2 660.2L165.2 660.1L166.2 662.6L167.2 660.8L168.2 660.7L169.2 659.0L170.2 658.8L171.2 658.0L172.2 661.8L173.2 660.2L174.2 661.2L175.2 660.6L176.2 658.9L177.2 660.4L178.2 657.7L179.2 662.0L180.2 661.1L181.2 661.6L182.2 661.6L183.2 662.6L184.2 661.6L185.2 662.2L186.2 661.4L187.2 662.3L188.2 663.4L189.2 664.6L190.2 662.8L191.2 661.4L192.2 660.9L193.2 663.6L194.2 663.1L195.2 665.3L196.2 667.2L197.2 663.8L198.2 667.3L199.2 667.5L200.2 664.6L201.2 666.0L202.2 668.4L203.2 666.8L204.2 667.3L205.2 670.6L206.2 669.2L207.2 669.6L208.2 672.0L209.2 671.6L210.2 672.2L211.2 674.3L212.2 674.5L213.2 670.4L214.2 674.6L215.2 673.6L216.2 674.3L217.2 675.3L218.2 677.0L219.2 675.9L220.2 674.9L221.2 675.9L222.2 673.4L223.2 676.5L224.2 676.2L225.2 674.3L226.2 674.1L227.2 674.3L228.2 675.0L229.2 677.0L230.2 676.0L231.2 675.4L232.2 676.0L233.2 678.2L234.2 676.0L235.2 675.4L236.2 679.1L237.2 675.4L238.2 677.2L239.2 677.8L240.2 676.8L241.2 676.3L242.2 678.5L243.2 676.9L244.2 677.6L245.2 676.7L246.2 679.1L247.2 675.5L248.2 675.1L249.2 675.6L250.2 676.7L251.2 676.5L252.2 677.1L253.2 676.0L254.2 677.6L255.2 675.0L256.2 675.2L257.2 676.6L258.2 676.0L259.2 675.9L260.2 676.2L261.2 676.0L262.2 677.4L263.2 678.0L264.2 678.8L265.2 677.3L266.2 676.1L267.2 675.6L268.2 675.6L269.2 674.9L270.2 677.9L271.2 679.4L272.2 676.9L273.2 677.4L274.2 674.3L275.2 676.9L276.2 676.1L277.2 677.0L278.2 675.8L279.2 675.9L280.2 675.7L281.2 675.9L282.2 679.4L283.2 677.7L284.2 674.7L285.2 676.3L286.2 676.1L287.2 679.2L288.2 674.0L289.2 677.3L290.2 677.6L291.2 679.0L292.2 678.7L293.2 676.1L294.2 674.0L295.2 674.8L296.2 675.2L297.2 675.9L298.2 675.2L299.2 674.2L300.2 676.9L301.2 676.2L302.2 675.4L303.2 675.3L304.2 675.0L305.2 674.5L306.2 678.5L307.2 675.3L308.2 675.0L309.2 677.9L310.2 675.2L311.2 676.1L312.2 674.3L313.2 675.1L314.2 673.1L315.2 676.2L316.2 678.2L317.2 675.9L318.2 676.0L319.2 677.1L320.2 677.1L321.2 674.2L322.2 674.3L323.2 674.9L324.2 677.1L325.2 673.7L326.2 674.5L327.2 675.0L328.2 675.3L329.2 675.6L330.2 674.7L331.2 677.0L332.2 674.2L333.2 677.8L334.2 675.5L335.2 676.2L336.2 673.5L337.2 675.7L338.2 673.5L339.2 673.1L340.2 676.3L341.2 675.2L342.2 673.5L343.2 672.4L344.2 676.2L345.2 675.1L346.2 676.2L347.2 676.5L348.2 676.7L349.2 672.4L350.2 672.4L351.2 676.0L352.2 672.4L353.2 676.6L354.2 675.6L355.2 675.0L356.2 674.9L357.2 672.7L358.2 674.8L359.2 674.7L360.2 675.5L361.2 677.7L362.2 674.2L363.2 675.9L364.2 677.4L365.2 673.9L366.2 673.7L367.2 673.8L368.2 673.2L369.2 672.4L370.2 675.7L371.2 676.9L372.2 675.6L373.2 673.9L374.2 673.8L375.2 675.0L376.2 673.6L377.2 674.4L378.2 673.8L379.2 675.8L380.2 675.4L381.2 674.5L382.2 672.5L383.2 673.0L384.2 674.4L385.2 675.5L386.2 671.7L387.2 674.5L388.2 670.4L389.2 669.5L390.2 677.0L391.2 666.9L392.2 666.8L393.2 665.8L394.2 663.5L395.2 662.2L396.2 661.7L397.2 660.6L398.2 659.1L399.2 653.5L400.2 647.5L401.2 645.6L402.2 639.5L403.2 638.4L404.2 633.2L405.2 631.3L406.2 626.1L407.2 621.8L408.2 615.9L409.2 614.8L410.2 602.5L411.2 602.9L412.2 594.9L413.2 585.9L414.2 575.6L415.2 565.4L416.2 556.6L417.2 551.2L418.2 553.9L419.2 551.6L420.2 550.1L421.2 546.2L422.2 551.2L423.2 553.4L424.2 560.3L425.2 559.4L426.2 559.3L427.2 567.8L428.2 578.9L429.2 581.2L430.2 592.4L431.2 595.7L432.2 604.4L433.2 611.1L434.2 614.5L435.2 623.6L436.2 632.7L437.2 635.5L438.2 640.5L439.2 643.9L440.2 649.3L441.2 652.6L442.2 652.5L443.2 656.4L444.2 662.1L445.2 667.9L446.2 664.9L447.2 662.4L448.2 661.6L449.2 660.8L450.2 661.8L451.2 660.2L452.2 663.8L453.2 666.4L454.2 661.4L455.2 661.1L456.2 660.6L457.2 661.0L458.2 658.9L459.2 660.9L460.2 660.4L461.2 656.6L462.2 656.1L463.2 653.8L464.2 654.4L465.2 654.6L466.2 647.8L467.2 646.6L468.2 643.6L469.2 644.7L470.2 643.1L471.2 639.3L472.2 638.7L473.2 641.1L474.2 639.7L475.2 633.2L476.2 633.4L477.2 631.1L478.2 631.1L479.2 626.1L480.2 627.4L481.2 626.4L482.2 625.1L483.2 618.0L484.2 623.3L485.2 616.3L486.2 614.0L487.2 618.0L488.2 616.2L489.2 613.0L490.2 613.8L491.2 612.1L492.2 610.2L493.2 606.0L494.2 606.6L495.2 606.3L496.2 608.0L497.2 607.9L498.2 603.2L499.2 601.2L500.2 599.8L501.2 602.8L502.2 598.7L503.2 603.7L504.2 599.6L505.2 599.3L506.2 600.9L507.2 600.4L508.2 599.8L509.2 603.3L510.2 605.0L511.2 604.2L512.2 606.0L513.2 607.8L514.2 605.5L515.2 609.6L516.2 613.0L517.2 613.0L518.2 618.6L519.2 621.0L520.2 618.3L521.2 623.5L522.2 627.8L523.2 628.6L524.2 632.5L525.2 635.1L526.2 633.8L527.2 639.7L528.2 640.1L529.2 640.4L530.2 646.7L531.2 646.3L532.2 649.4L533.2 652.9L534.2 655.6L535.2 655.5L536.2 656.1L537.2 658.1L538.2 662.2L539.2 661.2L540.2 665.7L541.2 666.3L542.2 663.9L543.2 668.6L544.2 665.8L545.2 667.2L546.2 668.0L547.2 667.1L548.2 669.4L549.2 670.7L550.2 672.8L551.2 672.6L552.2 670.2L553.2 671.8L554.2 673.3L555.2 671.7L556.2 670.9L557.2 672.1L558.2 670.8L559.2 672.8L560.2 672.3L561.2 675.1L562.2 673.4L563.2 672.4L564.2 675.5L565.2 674.4L566.2 673.7L567.2 675.5L568.2 674.0L569.2 672.8L570.2 673.6L571.2 676.9L572.2 677.4L573.2 674.7L574.2 675.9L575.2 672.9L576.2 676.6L577.2 675.2L578.2 676.3L579.2 675.1L580.2 675.5L581.2 673.2L582.2 676.2L583.2 674.8L584.2 676.0L585.2 677.9L586.2 673.1L587.2 677.1L588.2 676.2L589.2 676.2L590.2 677.0L591.2 675.1L592.2 673.3L593.2 674.9L594.2 675.2L595.2 673.3L596.2 676.5L597.2 676.4L598.2 674.1L599.2 675.8L600.2 675.8L601.2 675.7L602.2 675.7L603.2 677.2L604.2 676.0L605.2 678.6L606.2 676.0L607.2 677.6L608.2 677.7L609.2 673.6L610.2 676.1L611.2 676.4L612.2 676.6L613.2 676.5L614.2 677.6L615.2 677.1L616.2 675.5L617.2 677.5L618.2 675.6L619.2 676.4L620.2 675.1L621.2 674.0L622.2 674.3L623.2 677.9L624.2 676.9L625.2 674.9L626.2 676.9L627.2 674.5L628.2 674.7L629.2 673.3L630.2 675.3L631.2 676.6L632.2 678.7L633.2 675.4L634.2 676.2L635.2 676.4L636.2 677.1L637.2 674.8L638.2 674.2L639.2 677.0L640.2 674.0L641.2 676.5L642.2 675.0L643.2 675.8L644.2 676.4L645.2 673.2L646.2 678.5L647.2 673.7L648.2 674.0L649.2 676.4L650.2 673.0L651.2 674.3L652.2 675.8L653.2 674.9L654.2 675.3L655.2 674.9L656.2 674.9L657.2 674.7L658.2 678.0L659.2 676.1L660.2 673.6L661.2 674.7L662.2 676.3L663.2 677.0L664.2 673.1L665.2 674.8L666.2 672.5L667.2 673.9L668.2 677.2L669.2 675.7L670.2 674.2" stroke="#0000ff"/>
<path d="M80.2 808.7L81.2 810.5L82.2 808.8L83.2 809.2L84.2 811.3L85.2 810.1L86.2 810.7L87.2 810.9L88.2 808.4L89.2 808.0L90.2 802.9L91.2 806.4L92.2 804.3L93.2 803.0L94.2 803.8L95.2 802.1L96.2 801.8L97.2 800.2L98.2 800.7L99.2 797.9L100.2 796.8L101.2 797.6L102.2 794.9L103.2 791.2L104.2 792.4L105.2 792.0L106.2 789.5L107.2 788.5L108.2 787.3L109.2 785.1L110.2 787.8L111.2 786.7L112.2 785.8L113.2 785.9L114.2 785.7L115.2 788.3L116.2 785.5L117.2 783.2L118.2 786.2L119.2 788.0L120.2 789.4L121.2 789.8L122.2 789.8L123.2 797.1L124.2 794.8L125.2 798.4L126.2 799.7L127.2 800.2L128.2 801.6L129.2 801.6L130.2 802.7L131.2 804.1L132.2 805.5L133.2 809.3L134.2 806.0L135.2 809.7L136.2 808.9L137.2 808.7L138.2 807.7L139.2 809.8L140.2 808.8L141.2 810.8L142.2 811.1L143.2 809.2L144.2 812.4L145.2 810.5L146.2 810.5L147.2 810.4L148.2 808.9L149.2 810.2L150.2 810.3L151.2 807.8L152.2 808.4L153.2 809.3L154.2 807.2L155.2 805.6L156.2 807.1L157.2 805.3L158.2 804.5L159.2 802.5L160.2 804.4L161.2 802.8L162.2 804.2L163.2 800.9L164.2 801.7L165.2 805.2L166.2 805.3L167.2 803.0L168.2 802.4L169.2 798.9L170.2 801.8L171.2 799.8L172.2 797.9L173.2 798.9L174.2 798.7L175.2 801.1L176.2 800.4L177.2 802.9L178.2 802.1L179.2 800.1L180.2 800.7L181.2 798.1L182.2 801.2L183.2 799.5L184.2 800.3L185.2 800.6L186.2 800.3L187.2 799.8L188.2 801.6L189.2 801.8L190.2 798.1L191.2 800.1L192.2 800.8L193.2 800.3L194.2 801.5L195.2 802.6L196.2 801.7L197.2 801.4L198.2 803.3L199.2 802.5L200.2 802.6L201.2 805.0L202.2 804.2L203.2 801.5L204.2 805.2L205.2 802.7L206.2 804.4L207.2 801.9L208.2 806.4L209.2 802.9L210.2 806.3L211.2 808.6L212.2 807.1L213.2 806.5L214.2 805.3L215.2 806.5L216.2 808.3L217.2 804.8L218.2 806.0L219.2 809.5L220.2 807.4L221.2 810.0L222.2 809.7L223.2 808.0L224.2 809.5L225.2 812.0L226.2 810.1L227.2 810.8L228.2 811.8L229.2 810.6L230.2 811.2L231.2 812.5L232.2 811.8L233.2 812.2L234.2 813.3L235.2 815.0L236.2 812.7L237.2 812.1L238.2 815.5L239.2 814.3L240.2 810.7L241.2 812.5L242.2 811.1L243.2 814.3L244.2 811.8L245.2 812.8L246.2 815.7L247.2 812.7L248.2 813.6L249.2 814.1L250.2 815.0L251.2 815.1L252.2 815.7L253.2 812.9L254.2 814.4L255.2 811.5L256.2 813.8L257.2 813.6L258.2 816.2L259.2 814.3L260.2 813.4L261.2 813.4L262.2 812.7L263.2 813.3L264.2 813.0L265.2 813.9L266.2 813.2L267.2 814.0L268.2 815.3L269.2 812.4L270.2 812.9L271.2 812.2L272.2 816.5L273.2 816.2L274.2 814.6L275.2 814.0L276.2 812.6L277.2 815.2L278.2 814.0L279.2 814.4L280.2 814.0L281.2 811.4L282.2 811.6L283.2 813.1L284.2 814.5L285.2 812.4L286.2 814.0L287.2 813.2L288.2 812.2L289.2 814.5L290.2 812.1L291.2 811.9L292.2 815.9L293.2 815.5L294.2 813.9L295.2 815.1L296.2 812.7L297.2 813.2L298.2 814.1L299.2 814.1L300.2 814.3L301.2 811.8L302.2 814.8L303.2 812.0L304.2 813.4L305.2 815.9L306.2 814.8L307.2 812.8L308.2 813.9L309.2 812.5L310.2 812.5L311.2 812.3L312.2 812.9L313.2 813.4L314.2 814.2L315.2 815.7L316.2 814.0L317.2 813.7L318.2 811.8L319.2 815.0L320.2 813.5L321.2 815.4L322.2 813.4L323.2 815.5L324.2 812.5L325.2 812.8L326.2 813.0L327.2 812.9L328.2 813.6L329.2 813.4L330.2 810.6L331.2 811.6L332.2 812.0L333.2 813.8L334.2 812.5L335.2 813.9L336.2 813.8L337.2 813.2L338.2 810.5L339.2 815.4L340.2 813.6L341.2 812.3L342.2 813.5L343.2 812.4L344.2 813.2L345.2 812.0L346.2 815.3L347.2 812.7L348.2 813.7L349.2 812.2L350.2 814.2L351.2 815.0L352.2 813.4L353.2 812.1L354.2 813.5L355.2 812.9L356.2 814.2L357.2 813.5L358.2 813.5L359.2 812.8L360.2 812.7L361.2 813.0L362.2 814.6L363.2 812.9L364.2 813.6L365.2 812.2L366.2 812.3L367.2 811.1L368.2 812.4L369.2 811.7L370.2 809.9L371.2 811.1L372.2 810.3L373.2 811.8L374.2 811.5L375.2 813.7L376.2 812.1L377.2 811.0L378.2 811.1L379.2 811.1L380.2 810.9L381.2 812.0L382.2 810.6L383.2 811.5L384.2 812.4L385.2 810.3L386.2 810.8L387.2 812.8L388.2 811.0L389.2 809.6L390.2 810.5L391.2 809.0L392.2 807.8L393.2 809.7L394.2 806.8L395.2 806.6L396.2 806.7L397.2 807.3L398.2 806.1L399.2 803.0L400.2 802.0L401.2 799.5L402.2 799.2L403.2 796.5L404.2 792.8L405.2 792.8L406.2 787.0L407.2 785.5L408.2 779.7L409.2 780.6L410.2 775.0L411.2 772.4L412.2 770.4L413.2 762.0L414.2 755.5L415.2 746.9L416.2 740.6L417.2 730.8L418.2 726.2L419.2 720.2L420.2 714.5L421.2 709.2L422.2 704.9L423.2 698.3L424.2 692.7L425.2 691.6L426.2 687.2L427.2 687.8L428.2 689.2L429.2 692.5L430.2 689.2L431.2 688.2L432.2 689.1L433.2 695.2L434.2 692.6L435.2 697.1L436.2 703.2L437.2 707.6L438.2 715.4L439.2 723.0L440.2 726.2L441.2 727.1L442.2 736.3L443.2 743.9L444.2 749.5L445.2 759.1L446.2 759.8L447.2 764.0L448.2 766.6L449.2 776.9L450.2 779.7L451.2 780.8L452.2 783.5L453.2 781.5L454.2 783.8L455.2 787.2L456.2 787.6L457.2 786.3L458.2 788.7L459.2 790.0L460.2 788.7L461.2 791.7L462.2 790.4L463.2 789.6L464.2 789.2L465.2 788.4L466.2 790.4L467.2 785.4L468.2 787.0L469.2 785.0L470.2 779.6L471.2 780.3L472.2 777.2L473.2 778.2L474.2 774.2L475.2 771.6L476.2 771.0L477.2 770.4L478.2 764.4L479.2 762.1L480.2 763.1L481.2 763.4L482.2 756.4L483.2 760.7L484.2 757.6L485.2 756.9L486.2 754.9L487.2 751.2L488.2 749.3L489.2 752.6L490.2 745.5L491.2 747.1L492.2 748.9L493.2 744.8L494.2 745.7L495.2 743.6L496.2 741.1L497.2 743.0L498.2 740.9L499.2 738.6L500.2 740.2L501.2 737.1L502.2 737.4L503.2 734.9L504.2 738.2L505.2 736.7L506.2 735.3L507.2 734.4L508.2 734.2L509.2 734.4L510.2 734.1L511.2 741.1L512.2 738.1L513.2 743.0L514.2 744.2L515.2 743.0L516.2 744.4L517.2 743.3L518.2 746.9L519.2 747.5L520.2 751.9L521.2 750.4L522.2 751.9L523.2 755.7L524.2 752.6L525.2 756.2L526.2 761.5L527.2 761.3L528.2 765.5L529.2 762.9L530.2 767.0L531.2 769.6L532.2 769.2L533.2 775.0L534.2 773.4L535.2 777.3L536.2 781.0L537.2 782.5L538.2 783.5L539.2 783.9L540.2 787.1L541.2 787.2L542.2 792.2L543.2 791.3L544.2 791.9L545.2 796.5L546.2 798.9L547.2 798.3L548.2 798.3L549.2 798.1L550.2 800.3L551.2 803.3L552.2 803.8L553.2 801.2L554.2 804.7L555.2 802.6L556.2 806.3L557.2 808.1L558.2 805.8L559.2 807.9L560.2 806.0L561.2 806.7L562.2 808.4L563.2 808.8L564.2 807.3L565.2 809.9L566.2 808.5L567.2 806.4L568.2 809.8L569.2 810.2L570.2 807.2L571.2 809.7L572.2 811.2L573.2 810.7L574.2 809.7L575.2 809.7L576.2 811.2L577.2 810.9L578.2 812.3L579.2 811.9L580.2 813.5L581.2 810.8L582.2 812.1L583.2 812.1L584.2 811.5L585.2 812.4L586.2 809.3L587.2 810.9L588.2 813.8L589.2 812.1L590.2 811.3L591.2 812.6L592.2 811.0L593.2 809.7L594.2 811.4L595.2 812.3L596.2 810.6L597.2 813.1L598.2 811.4L599.2 811.0L600.2 810.2L601.2 813.5L602.2 813.5L603.2 809.5L604.2 811.0L605.2 810.0L606.2 812.6L607.2 810.9L608.2 812.3L609.2 810.9L610.2 809.8L611.2 813.1L612.2 811.3L613.2 810.8L614.2 809.9L615.2 811.5L616.2 812.6L617.2 810.7L618.2 813.5L619.2 813.3L620.2 811.3L621.2 811.9L622.2 810.6L623.2 811.9L624.2 809.7L625.2 809.7L626.2 813.5L627.2 811.4L628.2 812.2L629.2 810.1L630.2 811.7L631.2 810.9L632.2 808.5L633.2 810.7L634.2 811.1L635.2 810.9L636.2 812.5L637.2 811.8L638.2 809.2L639.2 810.1L640.2 810.8L641.2 811.1L642.2 811.0L643.2 809.1L644.2 811.2L645.2 810.5L646.2 808.5L647.2 808.4L648.2 808.8L649.2 809.7L650.2 809.0L651.2 809.5L652.2 809.0L653.2 810.1L654.2 811.4L655.2 811.3L656.2 808.5L657.2 811.8L658.2 812.6L659.2 809.7L660.2 813.0L661.2 810.7L662.2 809.1L663.2 812.6L664.2 810.4L665.2 809.9L666.2 813.1L667.2 812.5L668.2 810.1L669.2 809.6L670.2 810.5" stroke="#ff0000"/>
<path d="M80.2 947.4L81.2 947.4L82.2 946.2L83.2 947.4L84.2 943.7L85.2 947.1L86.2 944.9L87.2 944.8L88.2 943.4L89.2 942.4L90.2 943.8L91.2 945.3L92.2 944.6L93.2 945.2L94.2 943.5L95.2 943.8L96.2 943.1L97.2 941.6L98.2 942.7L99.2 941.8L100.2 943.2L101.2 941.3L102.2 940.8L103.2 940.7L104.2 940.3L105.2 937.8L106.2 936.9L107.2 936.6L108.2 937.2L109.2 933.5L110.2 932.6L111.2 936.6L112.2 932.9L113.2 932.7L114.2 929.0L115.2 930.8L116.2 930.9L117.2 930.0L118.2 930.3L119.2 930.8L120.2 931.7L121.2 932.8L122.2 929.7L123.2 929.8L124.2 933.1L125.2 933.3L126.2 932.7L127.2 932.9L128.2 934.8L129.2 936.8L130.2 938.5L131.2 939.9L132.2 940.3L133.2 938.6L134.2 943.3L135.2 942.4L136.2 942.0L137.2 942.6L138.2 944.8L139.2 943.5L140.2 944.2L141.2 945.1L142.2 947.3L143.2 943.8L144.2 947.4L145.2 943.8L146.2 945.4L147.2 947.0L148.2 948.2L149.2 945.2L150.2 948.2L151.2 948.4L152.2 946.1L153.2 946.2L154.2 946.2L155.2 943.7L156.2 948.7L157.2 946.4L158.2 943.5L159.2 945.5L160.2 944.8L161.2 943.3L162.2 943.1L163.2 943.8L164.2 941.5L165.2 940.5L166.2 944.1L167.2 941.9L168.2 940.5L169.2 943.2L170.2 937.9L171.2 938.8L172.2 941.1L173.2 940.3L174.2 940.2L175.2 938.7L176.2 938.3L177.2 938.2L178.2 938.2L179.2 939.6L180.2 939.9L181.2 939.2L182.2 940.3L183.2 935.8L184.2 938.1L185.2 936.9L186.2 941.1L187.2 938.3L188.2 939.6L189.2 939.1L190.2 937.8L191.2 937.6L192.2 939.7L193.2 940.1L194.2 938.3L195.2 941.5L196.2 939.1L197.2 940.2L198.2 939.5L199.2 940.4L200.2 936.8L201.2 941.1L202.2 940.2L203.2 940.3L204.2 941.2L205.2 940.5L206.2 937.8L207.2 939.3L208.2 938.8L209.2 940.0L210.2 941.9L211.2 943.5L212.2 939.7L213.2 940.4L214.2 942.5L215.2 943.6L216.2 943.6L217.2 942.9L218.2 944.6L219.2 944.9L220.2 943.7L221.2 946.8L222.2 943.4L223.2 945.7L224.2 946.0L225.2 946.8L226.2 947.9L227.2 946.1L228.2 946.8L229.2 947.9L230.2 949.5L231.2 946.5L232.2 948.3L233.2 947.8L234.2 946.4L235.2 948.3L236.2 946.4L237.2 947.7L238.2 948.0L239.2 950.4L240.2 946.6L241.2 948.8L242.2 948.3L243.2 947.8L244.2 947.5L245.2 949.9L246.2 947.2L247.2 949.1L248.2 947.8L249.2 949.0L250.2 949.2L251.2 946.0L252.2 946.9L253.2 948.0L254.2 948.3L255.2 946.3L256.2 948.8L257.2 949.5L258.2 948.1L259.2 948.4L260.2 946.6L261.2 949.7L262.2 950.7L263.2 950.8L264.2 948.5L265.2 950.8L266.2 947.6L267.2 948.9L268.2 948.4L269.2 946.3L270.2 947.4L271.2 948.3L272.2 948.3L273.2 947.7L274.2 948.2L275.2 949.4L276.2 949.7L277.2 945.7L278.2 947.5L279.2 948.3L280.2 945.7L281.2 948.8L282.2 949.9L283.2 946.4L284.2 945.6L285.2 947.4L286.2 949.9L287.2 950.7L288.2 948.7L289.2 948.2L290.2 947.0L291.2 949.1L292.2 947.1L293.2 948.3L294.2 949.6L295.2 948.2L296.2 946.7L297.2 948.6L298.2 949.6L299.2 949.7L300.2 945.8L301.2 948.6L302.2 948.7L303.2 947.6L304.2 946.5L305.2 947.0L306.2 946.9L307.2 950.5L308.2 948.3L309.2 947.6L310.2 948.5L311.2 949.9L312.2 947.9L313.2 949.1L314.2 948.9L315.2 947.3L316.2 950.0L317.2 948.3L318.2 949.5L319.2 949.8L320.2 947.3L321.2 946.8L322.2 947.0L323.2 950.2L324.2 947.9L325.2 947.3L326.2 949.9L327.2 946.8L328.2 950.1L329.2 946.8L330.2 948.2L331.2 947.8L332.2 948.2L333.2 948.9L334.2 948.7L335.2 946.0L336.2 946.2L337.2 947.5L338.2 948.6L339.2 947.1L340.2 946.7L341.2 945.0L342.2 948.2L343.2 947.8L344.2 946.1L345.2 947.0L346.2 949.4L347.2 946.6L348.2 946.4L349.2 948.3L350.2 944.9L351.2 946.8L352.2 947.0L353.2 946.2L354.2 946.7L355.2 946.8L356.2 947.4L357.2 946.9L358.2 948.1L359.2 948.2L360.2 947.1L361.2 946.7L362.2 944.5L363.2 948.4L364.2 947.4L365.2 947.3L366.2 948.4L367.2 946.2L368.2 946.0L369.2 947.8L370.2 944.4L371.2 948.0L372.2 947.2L373.2 945.0L374.2 945.7L375.2 948.2L376.2 945.8L377.2 947.8L378.2 947.2L379.2 946.8L380.2 946.6L381.2 946.5L382.2 946.1L383.2 947.0L384.2 947.8L385.2 944.1L386.2 948.5L387.2 949.2L388.2 944.4L389.2 948.2L390.2 946.7L391.2 947.4L392.2 946.2L393.2 944.5L394.2 946.7L395.2 945.9L396.2 946.2L397.2 944.2L398.2 945.3L399.2 946.9L400.2 943.4L401.2 946.0L402.2 942.1L403.2 943.8L404.2 943.2L405.2 937.1L406.2 937.8L407.2 937.6L408.2 933.9L409.2 935.0L410.2 931.7L411.2 928.2L412.2 927.7L413.2 923.4L414.2 923.1L415.2 918.6L416.2 912.7L417.2 908.1L418.2 901.5L419.2 898.9L420.2 895.0L421.2 894.5L422.2 890.6L423.2 881.2L424.2 878.2L425.2 872.6L426.2 867.0L427.2 865.9L428.2 860.1L429.2 855.7L430.2 852.9L431.2 851.7L432.2 843.3L433.2 842.3L434.2 843.9L435.2 844.8L436.2 843.0L437.2 842.4L438.2 839.6L439.2 847.2L440.2 843.5L441.2 844.5L442.2 851.4L443.2 849.2L444.2 850.5L445.2 855.4L446.2 858.4L447.2 860.9L448.2 860.8L449.2 869.3L450.2 871.7L451.2 875.5L452.2 881.6L453.2 885.8L454.2 885.6L455.2 895.4L456.2 897.9L457.2 902.2L458.2 903.4L459.2 907.2L460.2 910.5L461.2 911.0L462.2 912.2L463.2 920.3L464.2 920.0L465.2 920.5L466.2 922.5L467.2 918.9L468.2 918.6L469.2 916.6L470.2 917.1L471.2 919.5L472.2 918.0L473.2 912.9L474.2 915.8L475.2 914.1L476.2 914.2L477.2 909.5L478.2 909.7L479.2 906.3L480.2 906.8L481.2 906.8L482.2 903.2L483.2 902.0L484.2 902.5L485.2 898.6L486.2 895.9L487.2 898.1L488.2 891.6L489.2 896.7L490.2 890.5L491.2 890.0L492.2 886.9L493.2 891.3L494.2 890.3L495.2 887.0L496.2 886.5L497.2 887.7L498.2 884.0L499.2 879.7L500.2 879.3L501.2 878.9L502.2 874.9L503.2 877.2L504.2 876.4L505.2 877.8L506.2 876.1L507.2 878.9L508.2 874.0L509.2 875.3L510.2 876.4L511.2 873.8L512.2 874.2L513.2 869.8L514.2 874.5L515.2 874.5L516.2 878.6L517.2 877.0L518.2 879.1L519.2 883.5L520.2 878.5L521.2 883.0L522.2 881.5L523.2 884.5L524.2 886.6L525.2 886.7L526.2 891.8L527.2 890.4L528.2 892.9L529.2 895.2L530.2 896.0L531.2 898.3L532.2 897.4L533.2 902.6L534.2 903.1L535.2 905.5L536.2 907.2L537.2 907.7L538.2 909.5L539.2 911.4L540.2 913.9L541.2 914.3L542.2 914.0L543.2 917.0L544.2 916.1L545.2 919.9L546.2 920.6L547.2 922.4L548.2 923.9L549.2 924.0L550.2 926.2L551.2 927.8L552.2 929.6L553.2 931.0L554.2 931.2L555.2 931.5L556.2 935.2L557.2 932.6L558.2 938.0L559.2 938.0L560.2 937.3L561.2 937.0L562.2 937.9L563.2 937.8L564.2 940.9L565.2 940.7L566.2 939.6L567.2 940.6L568.2 941.0L569.2 940.9L570.2 942.4L571.2 941.9L572.2 943.9L573.2 943.5L574.2 942.1L575.2 944.1L576.2 946.0L577.2 944.7L578.2 944.3L579.2 943.6L580.2 944.7L581.2 946.3L582.2 946.1L583.2 943.8L584.2 946.6L585.2 944.2L586.2 946.1L587.2 946.0L588.2 946.3L589.2 946.0L590.2 945.2L591.2 945.3L592.2 946.6L593.2 946.1L594.2 947.7L595.2 946.1L596.2 947.4L597.2 946.5L598.2 945.8L599.2 948.4L600.2 944.9L601.2 945.5L602.2 947.4L603.2 947.8L604.2 946.7L605.2 946.0L606.2 946.2L607.2 947.9L608.2 944.0L609.2 943.9L610.2 945.5L611.2 944.9L612.2 945.7L613.2 946.0L614.2 945.6L615.2 946.4L616.2 946.2L617.2 945.8L618.2 946.1L619.2 946.2L620.2 945.6L621.2 948.1L622.2 947.2L623.2 945.2L624.2 948.6L625.2 947.3L626.2 945.8L627.2 946.5L628.2 944.9L629.2 945.7L630.2 945.6L631.2 947.5L632.2 949.4L633.2 947.7L634.2 947.2L635.2 946.8L636.2 947.9L637.2 947.7L638.2 945.5L639.2 945.6L640.2 946.3L641.2 947.9L642.2 946.7L643.2 944.4L644.2 947.5L645.2 949.0L646.2 947.5L647.2 946.2L648.2 947.6L649.2 948.1L650.2 947.4L651.2 946.7L652.2 945.0L653.2 948.7L654.2 946.0L655.2 948.4L656.2 945.9L657.2 945.5L658.2 949.7L659.2 945.0L660.2 947.7L661.2 946.5L662.2 949.1L663.2 947.1L664.2 947.4L665.2 949.8L666.2 946.8L667.2 947.2L668.2 948.0L669.2 945.9L670.2 947.9" stroke="#000000"/>
</g>
<g stroke="#000" stroke-width="2.2" fill="none">
<rect x="79.2" y="3.4" width="592.8" height="948.4"/>
<path d="M92.3 951.8V964.5M223.9 951.8V964.5M355.5 951.8V964.5M487.1 951.8V964.5M618.7 951.8V964.5M158.1 951.8V958.5M289.7 951.8V958.5M421.3 951.8V958.5M552.9 951.8V958.5"/>
<path d="M92.3 3.4V15.3M223.9 3.4V15.3M355.5 3.4V15.3M487.1 3.4V15.3M618.7 3.4V15.3M158.1 3.4V9.5M289.7 3.4V9.5M421.3 3.4V9.5M552.9 3.4V9.5"/>
</g>
<g class="tk">
<text transform="translate(79.79,988.7) scale(0.915,1)" style="text-anchor:start">400</text>
<text transform="translate(211.39,988.7) scale(0.915,1)" style="text-anchor:start">500</text>
<text transform="translate(342.99,988.7) scale(0.915,1)" style="text-anchor:start">600</text>
<text transform="translate(474.59,988.7) scale(0.915,1)" style="text-anchor:start">700</text>
<text transform="translate(606.19,988.7) scale(0.915,1)" style="text-anchor:start">800</text>
</g>
<path d="M74.45 972.4V988.7M69.00 978.3L74.40 972.9M206.05 972.4V988.7M200.60 978.3L206.00 972.9M337.65 972.4V988.7M332.20 978.3L337.60 972.9M469.25 972.4V988.7M463.80 978.3L469.20 972.9M600.85 972.4V988.7M595.40 978.3L600.80 972.9" stroke="#000" stroke-width="1.9" fill="none"/>
<text x="254.6" y="1026.4" style="font-size:28px">Raman shift, cm</text>
<path d="M459 1006.9H463.9M469.2 1000.1V1011M466 1003.8L469.1 1000.5" stroke="#000" stroke-width="1.8" fill="none"/>
<text transform="translate(22.8,515.2) rotate(-90)" text-anchor="middle" style="font-size:28.3px">intensity, a.u.</text>
<g class="lab">
<text x="560" y="52">recovered</text>
<text x="566" y="76.7">sample</text>
<text x="563" y="195.6">0.3 GPa</text>
<text x="564" y="347">0.5 GPa</text>
<text x="564" y="481">2.5 GPa</text>
<text x="563" y="618">3.7 GPa</text>
<text x="570" y="763">5.7 GPa</text>
<text x="569" y="901.6">8.3 GPa</text>
</g>
<g class="an">
<use href="#nu" x="406.5" y="818.8"/><text x="418.4" y="831.3" style="font-size:16.9px">(C=C)</text>
<use href="#nu" x="489.5" y="851.5"/><text x="500.8" y="864.2" style="font-size:16.9px">(C=O)</text>
<text x="91" y="915.8">(C=CH<tspan dy="6.6" style="font-size:9px">2</tspan><tspan dy="-6.6">)</tspan></text>
<text x="164" y="926.3">(C- CH<tspan dy="6.6" style="font-size:9px">2</tspan><tspan dy="-6.6">)</tspan></text>
</g>
</svg>
</body></html>
